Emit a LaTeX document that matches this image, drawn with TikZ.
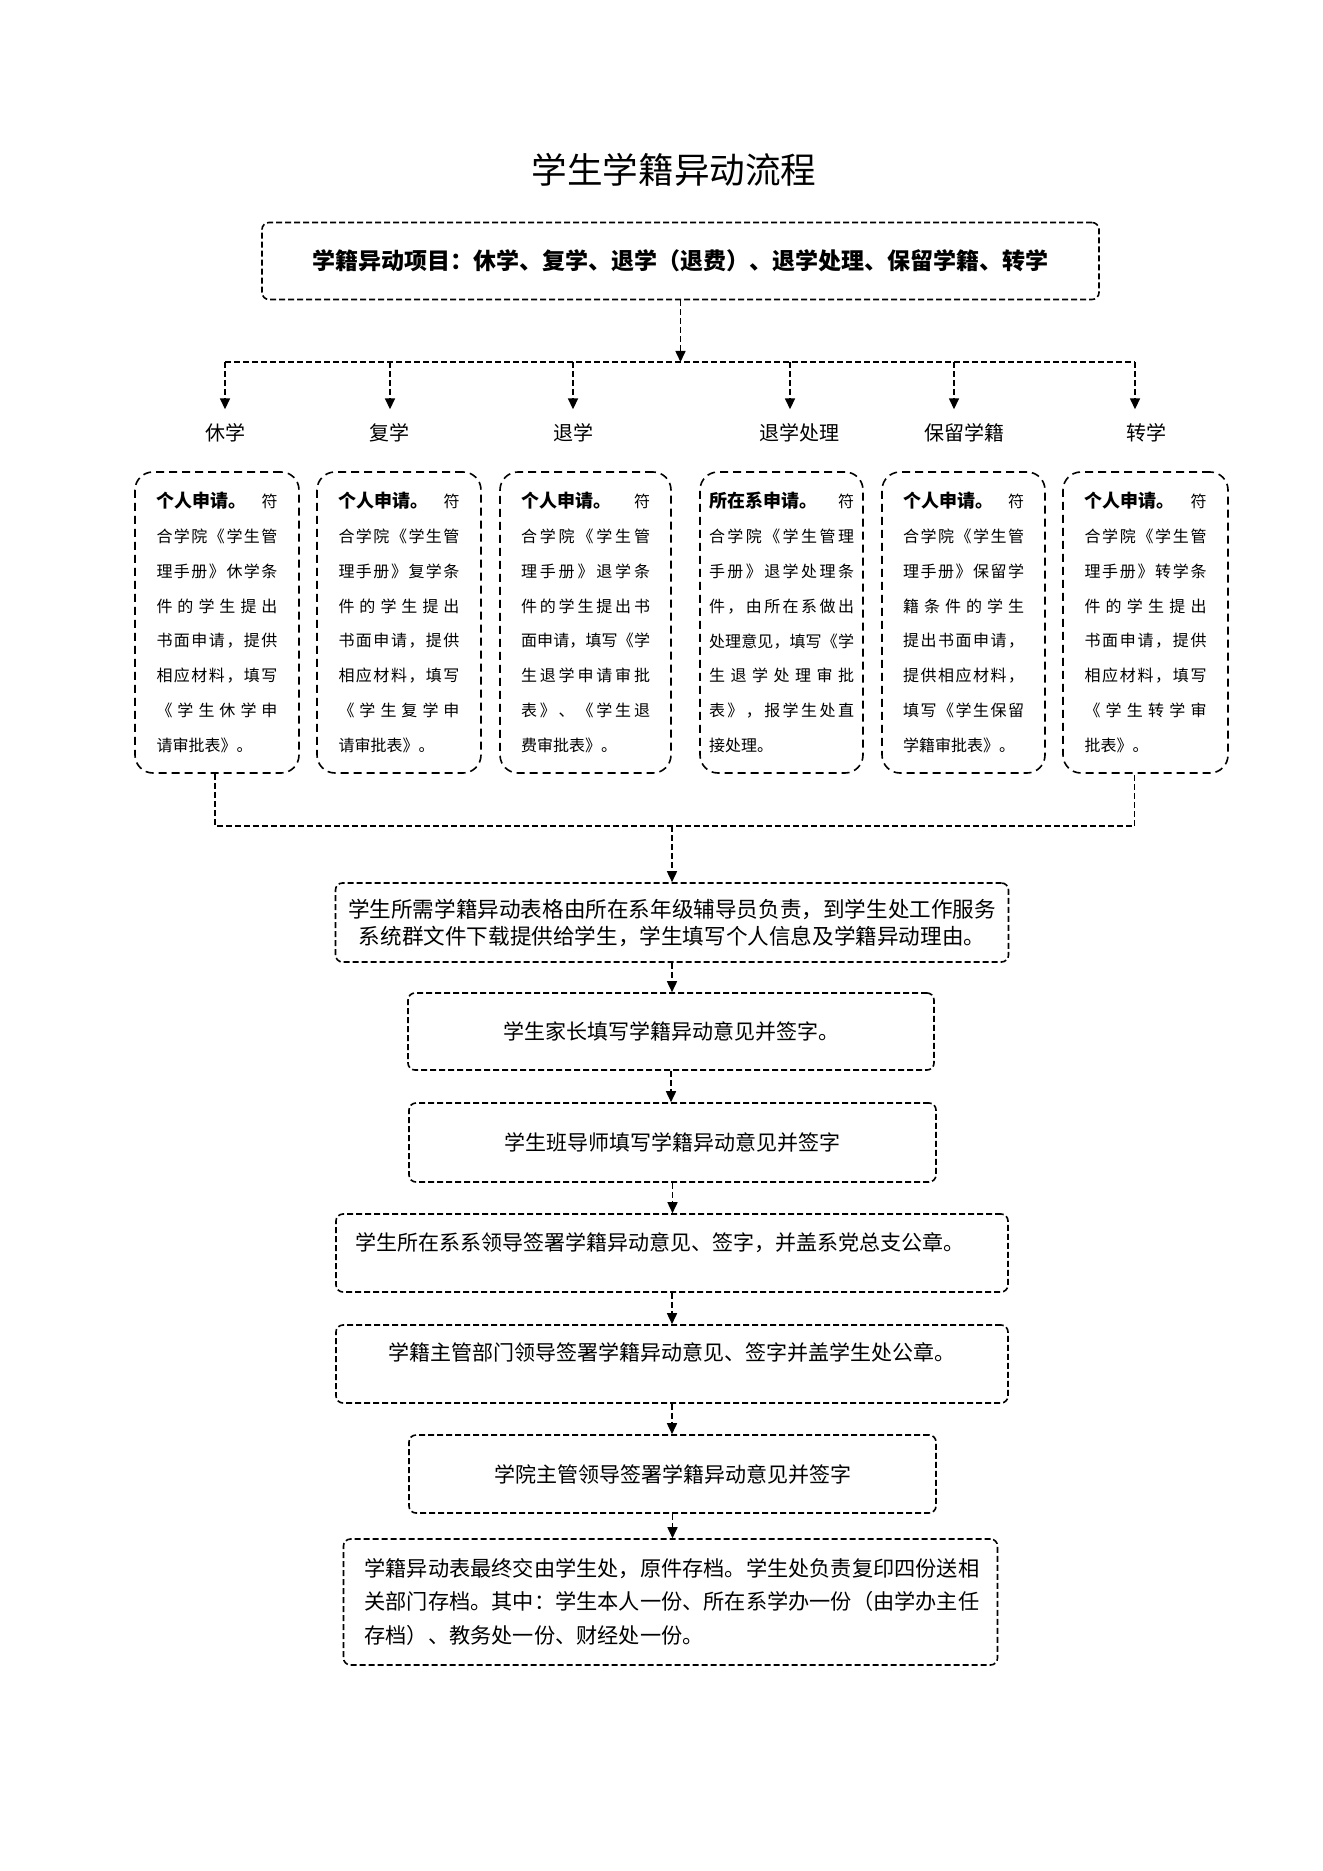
\documentclass[tikz,border=0pt]{standalone}
\usepackage{fontspec}
\setmainfont{Noto Sans CJK SC}
\usetikzlibrary{arrows.meta}

% justified CJK lines for the narrow boxes
\def\spreadA#1{\ifx\relax#1\else#1\expandafter\spreadB\fi}
\def\spreadB#1{\ifx\relax#1\else\hfil#1\expandafter\spreadB\fi}
\newcommand\jl[1]{\hbox to\hsize{\spreadA#1\relax}}
\newcommand\jend[1]{\hbox to\hsize{#1\hfil}}
\newcommand\jhead[2]{\hbox to\hsize{{\fontsize{9pt}{17.4pt}\selectfont\bfseries #1}\hfil #2}}
\newcommand\cellbox[2]{\vbox{\hsize=#1\fontsize{8pt}{17.4pt}\selectfont #2}}

\tikzset{
  conn/.style={line width=0.8pt, dash pattern=on 3pt off 1.5pt},
  arr/.style={conn, -{Triangle[length=5.5pt,width=5pt]}},
  flowbox/.style={draw, line width=0.8pt, dash pattern=on 3pt off 1.5pt,
    rounded corners=3.5pt, inner sep=0pt,
    font=\fontsize{10.5pt}{13.5pt}\selectfont},
  cellnode/.style={draw, line width=0.8pt, dash pattern=on 4pt off 2.5pt,
    rounded corners=9pt, inner sep=0pt, minimum height=150.5pt},
  lab/.style={inner sep=0pt, font=\fontsize{10pt}{12pt}\selectfont},
}

\begin{document}
\begin{tikzpicture}[x=0.5pt,y=-0.5pt]
\useasboundingbox (0,0) rectangle (1322,1871);
\fill[white] (0,0) rectangle (1322,1871);

\node[font=\fontsize{17.8pt}{20pt}\selectfont] (title) at (674,170) {学生学籍异动流程};

\node[flowbox, minimum width=418.5pt, minimum height=38.5pt,
      font=\fontsize{11.5pt}{13pt}\selectfont\bfseries] (top) at (680.5,261)
  {学籍异动项目：休学、复学、退学（退费）、退学处理、保留学籍、转学};

% bus
\coordinate (bus) at (0,362);
\coordinate (d1) at (225,362);
\coordinate (d2) at (390,362);
\coordinate (d3) at (573,362);
\coordinate (d4) at (790,362);
\coordinate (d5) at (954,362);
\coordinate (d6) at (1135,362);
\draw[arr] (top.south) -- (top.south |- bus);
\draw[conn] (d1) -- (d6);

% labels
\node[lab] (l1) at (225,433) {休学};
\node[lab] (l2) at (389,433) {复学};
\node[lab] (l3) at (573,433) {退学};
\node[lab] (l4) at (799,433) {退学处理};
\node[lab] (l5) at (964,433) {保留学籍};
\node[lab] (l6) at (1146,433) {转学};
\foreach \i in {1,...,6}
  \draw[arr, shorten >=7pt] (d\i) -- (d\i |- l\i.north);

% six boxes
\node[cellnode, minimum width=82pt] (s1) at (217,622.5) {\cellbox{60.5pt}{%
  \jhead{个人申请。}{符}
  \jl{合学院《学生管}
  \jl{理手册》休学条}
  \jl{件的学生提出}
  \jl{书面申请，提供}
  \jl{相应材料，填写}
  \jl{《学生休学申}
  \jend{请审批表》。}}};
\node[cellnode, minimum width=82pt] (s2) at (399,622.5) {\cellbox{60.5pt}{%
  \jhead{个人申请。}{符}
  \jl{合学院《学生管}
  \jl{理手册》复学条}
  \jl{件的学生提出}
  \jl{书面申请，提供}
  \jl{相应材料，填写}
  \jl{《学生复学申}
  \jend{请审批表》。}}};
\node[cellnode, minimum width=85.5pt] (s3) at (585.5,622.5) {\cellbox{64.5pt}{%
  \jhead{个人申请。}{符}
  \jl{合学院《学生管}
  \jl{理手册》退学条}
  \jl{件的学生提出书}
  \jl{面申请，填写《学}
  \jl{生退学申请审批}
  \jl{表》、《学生退}
  \jend{费审批表》。}}};
\node[cellnode, minimum width=81.5pt] (s4) at (781.5,622.5) {\cellbox{72.5pt}{%
  \jhead{所在系申请。}{符}
  \jl{合学院《学生管理}
  \jl{手册》退学处理条}
  \jl{件，由所在系做出}
  \jl{处理意见，填写《学}
  \jl{生退学处理审批}
  \jl{表》，报学生处直}
  \jend{接处理。}}};
\node[cellnode, minimum width=81.5pt] (s5) at (963.5,622.5) {\cellbox{60.5pt}{%
  \jhead{个人申请。}{符}
  \jl{合学院《学生管}
  \jl{理手册》保留学}
  \jl{籍条件的学生}
  \jl{提出书面申请，}
  \jl{提供相应材料，}
  \jl{填写《学生保留}
  \jend{学籍审批表》。}}};
\node[cellnode, minimum width=82.5pt] (s6) at (1145.5,622.5) {\cellbox{61pt}{%
  \jhead{个人申请。}{符}
  \jl{合学院《学生管}
  \jl{理手册》转学条}
  \jl{件的学生提出}
  \jl{书面申请，提供}
  \jl{相应材料，填写}
  \jl{《学生转学审}
  \jend{批表》。}}};

% lower flow
\node[flowbox, minimum width=336.5pt, minimum height=39.5pt, align=center,
      font=\fontsize{10.8pt}{13.5pt}\selectfont] (B1) at (672,922.5)
  {学生所需学籍异动表格由所在系年级辅导员负责，到学生处工作服务\\系统群文件下载提供给学生，学生填写个人信息及学籍异动理由。};
\node[flowbox, minimum width=263pt, minimum height=38.5pt] (B2) at (671,1031.5)
  {学生家长填写学籍异动意见并签字。};
\node[flowbox, minimum width=263.5pt, minimum height=39.5pt] (B3) at (672.5,1142.5)
  {学生班导师填写学籍异动意见并签字};
\node[flowbox, text width=317pt, inner xsep=9.5pt, align=left,
      text height=18pt, text depth=21pt] (B4) at (672,1253)
  {学生所在系系领导签署学籍异动意见、签字，并盖系党总支公章。};
\node[flowbox, minimum width=336pt, align=center,
      text height=17.5pt, text depth=21.5pt] (B5) at (672,1364)
  {学籍主管部门领导签署学籍异动意见、签字并盖学生处公章。};
\node[flowbox, minimum width=263.5pt, minimum height=39pt] (B6) at (672.5,1474)
  {学院主管领导签署学籍异动意见并签字};
\node[flowbox, text width=306pt, inner xsep=10.5pt, align=left, minimum height=63pt,
      font=\fontsize{10.6pt}{16.75pt}\selectfont] (B7) at (670.5,1602)
  {学籍异动表最终交由学生处，原件存档。学生处负责复印四份送相\\关部门存档。其中：学生本人一份、所在系学办一份（由学办主任\\存档）、教务处一份、财经处一份。};

% merge
\coordinate (mm) at (0,826);
\draw[conn] ([xshift=-1pt]s1.south) |- (B1.north |- mm) -| ([xshift=-5.5pt]s6.south);
\draw[arr] (B1.north |- mm) -- (B1.north);

\draw[arr] (B1.south) -- (B1.south |- B2.north);
\draw[arr] (B2.south) -- (B2.south |- B3.north);
\draw[arr] (B3.south) -- (B3.south |- B4.north);
\draw[arr] (B4.south) -- (B4.south |- B5.north);
\draw[arr] (B5.south) -- (B5.south |- B6.north);
\draw[arr] (B6.south) -- (B6.south |- B7.north);
\end{tikzpicture}
\end{document}
